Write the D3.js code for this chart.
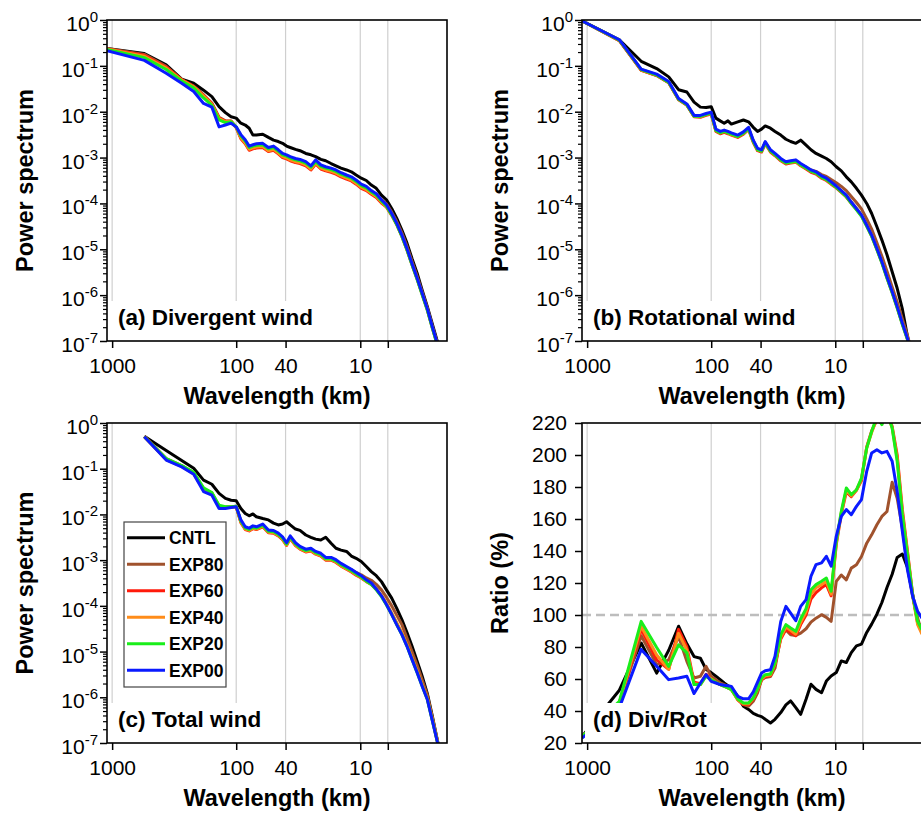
<!DOCTYPE html>
<html>
<head>
<meta charset="utf-8">
<script src="https://cdn.jsdelivr.net/npm/d3@7"></script>
<style>
  body { margin: 0; background: #fff; }
  svg { display: block; font-family: "Liberation Sans", Arial, Helvetica, sans-serif; }
</style>
</head>
<body>
<svg id="chart" width="921" height="816"></svg>
<script>
// Wavelength of each spectral sample (km), wavenumbers k = 1 ... 550 of a 1100 km domain
const wavelength = [1100, 550, 366.7, 275, 220, 183.3, 157.1, 137.5, 122.2, 110, 100,
  91.7, 84.6, 78.6, 73.3, 68.8, 61.1, 55, 50, 45.8, 42.3, 39.3, 36.7, 33.3, 30.6,
  27.5, 25, 22.9, 20.8, 19, 17.2, 15.7, 14.3, 12.9, 11.8, 10.8,
  9.82, 8.94, 8.15, 7.43, 6.75, 6.15, 5.58, 5.09, 4.62, 4.21,
  3.83, 3.48, 3.17, 2.88, 2.62, 2.38, 2.17, 2.0];

const seriesNames = ["CNTL", "EXP80", "EXP60", "EXP40", "EXP20", "EXP00"];
const seriesColors = ["#000000", "#a0522d", "#ff1a0a", "#ff8c1a", "#1aee1a", "#0a1aff"];

// Divergent wind spectra, log10 of power
const divCNTL = [-0.62, -0.73, -0.98, -1.29, -1.38, -1.53, -1.67, -1.89, -2.02, -2.11, -2.14,
  -2.25, -2.29, -2.36, -2.51, -2.51,
  -2.49, -2.56, -2.62, -2.65, -2.69, -2.75, -2.78, -2.82, -2.85,
  -2.91, -2.94, -2.98, -3.04, -3.07, -3.13, -3.18, -3.23, -3.27, -3.31, -3.38,
  -3.45, -3.50, -3.60, -3.67, -3.82, -3.92, -4.11, -4.32, -4.58, -4.86,
  -5.20, -5.52, -5.89, -6.25, -6.64, -7.03, -7.45, -7.85];
const divEXP80 = [-0.62, -0.75, -1.01, -1.30, -1.44, -1.63, -1.81, -2.12, -2.20, -2.20, -2.34,
  -2.57, -2.68, -2.82, -2.79, -2.77,
  -2.76, -2.85, -2.82, -2.90, -2.98, -3.01, -3.05, -3.09, -3.11,
  -3.16, -3.25, -3.12, -3.23, -3.27, -3.30, -3.34, -3.40, -3.45, -3.48, -3.55,
  -3.63, -3.67, -3.75, -3.80, -3.91, -4.01, -4.19, -4.39, -4.64, -4.93,
  -5.26, -5.59, -5.93, -6.28, -6.68, -7.06, -7.48, -7.88];
const divEXP60 = [-0.63, -0.77, -1.03, -1.30, -1.45, -1.65, -1.83, -2.14, -2.21, -2.21, -2.35,
  -2.59, -2.70, -2.84, -2.81, -2.79,
  -2.78, -2.87, -2.84, -2.92, -3.00, -3.03, -3.07, -3.11, -3.13,
  -3.18, -3.27, -3.14, -3.25, -3.29, -3.32, -3.36, -3.42, -3.47, -3.51, -3.58,
  -3.67, -3.72, -3.80, -3.87, -3.99, -4.08, -4.26, -4.46, -4.72, -5.01,
  -5.33, -5.65, -5.98, -6.32, -6.72, -7.10, -7.52, -7.92];
const divEXP40 = [-0.63, -0.79, -1.05, -1.31, -1.46, -1.66, -1.84, -2.15, -2.22, -2.21, -2.34,
  -2.57, -2.68, -2.82, -2.79, -2.77,
  -2.76, -2.85, -2.82, -2.90, -2.98, -3.01, -3.05, -3.09, -3.11,
  -3.16, -3.25, -3.12, -3.23, -3.27, -3.30, -3.34, -3.40, -3.45, -3.49, -3.56,
  -3.65, -3.70, -3.78, -3.85, -3.97, -4.07, -4.25, -4.45, -4.71, -5.00,
  -5.33, -5.65, -5.98, -6.32, -6.72, -7.10, -7.52, -7.92];
const divEXP20 = [-0.64, -0.82, -1.08, -1.33, -1.48, -1.70, -1.86, -2.18, -2.24, -2.22, -2.33,
  -2.53, -2.64, -2.78, -2.75, -2.73,
  -2.72, -2.81, -2.78, -2.86, -2.94, -2.97, -3.01, -3.05, -3.07,
  -3.12, -3.21, -3.09, -3.19, -3.23, -3.26, -3.30, -3.36, -3.41, -3.45, -3.52,
  -3.61, -3.66, -3.75, -3.82, -3.95, -4.06, -4.25, -4.46, -4.72, -5.01,
  -5.34, -5.66, -5.99, -6.33, -6.73, -7.11, -7.53, -7.93];
const divEXP00 = [-0.67, -0.88, -1.16, -1.38, -1.56, -1.82, -1.90, -2.33, -2.29, -2.25, -2.33,
  -2.50, -2.61, -2.75, -2.72, -2.70,
  -2.69, -2.78, -2.75, -2.83, -2.91, -2.94, -2.98, -3.02, -3.04,
  -3.09, -3.18, -3.05, -3.16, -3.20, -3.23, -3.27, -3.33, -3.38, -3.42, -3.49,
  -3.58, -3.63, -3.72, -3.79, -3.92, -4.03, -4.22, -4.43, -4.69, -4.98,
  -5.31, -5.63, -5.96, -6.30, -6.70, -7.08, -7.50, -7.90];

// Rotational wind spectra, log10 of power
const rotCNTL = [-0.02, -0.43, -0.90, -1.06, -1.24, -1.52, -1.57, -1.79, -1.90, -1.91, -1.89,
  -2.14, -2.20, -2.25, -2.20, -2.27,
  -2.22, -2.18, -2.22, -2.34, -2.43, -2.38, -2.31, -2.36, -2.43,
  -2.51, -2.60, -2.65, -2.69, -2.62, -2.73, -2.83, -2.91, -2.97, -3.02, -3.09,
  -3.20, -3.29, -3.42, -3.53, -3.67, -3.82, -4.00, -4.22, -4.51, -4.80,
  -5.12, -5.49, -5.85, -6.30, -6.90, -7.40, -7.90, -8.40];
const rotEXP80 = [-0.02, -0.45, -1.09, -1.21, -1.37, -1.73, -1.85, -2.10, -2.10, -2.06, -2.03,
  -2.40, -2.45, -2.42, -2.45, -2.48,
  -2.53, -2.46, -2.36, -2.64, -2.82, -2.85, -2.67, -2.85, -2.93,
  -3.04, -3.11, -3.09, -3.07, -3.15, -3.21, -3.27, -3.30, -3.37, -3.41, -3.48,
  -3.55, -3.63, -3.72, -3.85, -3.98, -4.12, -4.34, -4.56, -4.86, -5.15,
  -5.48, -5.82, -6.15, -6.52, -6.88, -7.30, -7.75, -8.25];
const rotEXP60 = [-0.02, -0.45, -1.10, -1.21, -1.37, -1.74, -1.86, -2.11, -2.12, -2.08, -2.05,
  -2.43, -2.48, -2.45, -2.48, -2.51,
  -2.56, -2.49, -2.39, -2.67, -2.85, -2.88, -2.70, -2.88, -2.96,
  -3.07, -3.14, -3.12, -3.10, -3.18, -3.25, -3.32, -3.36, -3.45, -3.50, -3.58,
  -3.66, -3.76, -3.86, -4.00, -4.13, -4.27, -4.49, -4.71, -5.00, -5.29,
  -5.62, -5.94, -6.27, -6.63, -6.96, -7.37, -7.82, -8.32];
const rotEXP40 = [-0.02, -0.44, -1.09, -1.20, -1.36, -1.73, -1.85, -2.10, -2.11, -2.06, -2.04,
  -2.41, -2.46, -2.43, -2.46, -2.50,
  -2.54, -2.47, -2.38, -2.65, -2.83, -2.86, -2.68, -2.86, -2.94,
  -3.05, -3.12, -3.10, -3.09, -3.16, -3.23, -3.30, -3.34, -3.43, -3.48, -3.56,
  -3.64, -3.73, -3.83, -3.97, -4.11, -4.25, -4.47, -4.69, -4.98, -5.27,
  -5.60, -5.92, -6.25, -6.61, -6.94, -7.35, -7.80, -8.30];
const rotEXP20 = [-0.02, -0.44, -1.08, -1.20, -1.36, -1.73, -1.85, -2.10, -2.10, -2.06, -2.03,
  -2.41, -2.46, -2.43, -2.46, -2.49,
  -2.54, -2.47, -2.37, -2.65, -2.83, -2.86, -2.68, -2.86, -2.94,
  -3.05, -3.12, -3.10, -3.08, -3.16, -3.23, -3.30, -3.34, -3.43, -3.48, -3.56,
  -3.65, -3.75, -3.85, -4.00, -4.14, -4.28, -4.50, -4.72, -5.01, -5.30,
  -5.63, -5.95, -6.28, -6.64, -6.97, -7.38, -7.83, -8.33];
const rotEXP00 = [-0.02, -0.43, -1.07, -1.18, -1.34, -1.71, -1.83, -2.08, -2.08, -2.04, -2.01,
  -2.38, -2.43, -2.40, -2.43, -2.46,
  -2.51, -2.44, -2.34, -2.62, -2.80, -2.83, -2.65, -2.83, -2.91,
  -3.02, -3.09, -3.07, -3.05, -3.13, -3.20, -3.27, -3.31, -3.40, -3.45, -3.53,
  -3.62, -3.72, -3.82, -3.97, -4.11, -4.25, -4.47, -4.69, -4.98, -5.27,
  -5.60, -5.92, -6.25, -6.61, -6.94, -7.35, -7.80, -8.30];

// Total wind spectra, log10 of power (no value at the domain scale)
const totCNTL = [null, -0.29, -0.60, -0.82, -0.99, -1.25, -1.34, -1.54, -1.65, -1.69, -1.70,
  -1.87, -1.98, -2.03, -1.99, -2.05,
  -2.09, -2.12, -2.19, -2.23, -2.21, -2.16, -2.23, -2.32, -2.35,
  -2.45, -2.50, -2.54, -2.56, -2.50, -2.63, -2.74, -2.78, -2.81, -2.91, -2.96,
  -3.03, -3.14, -3.25, -3.34, -3.47, -3.65, -3.83, -4.05, -4.30, -4.58,
  -4.88, -5.21, -5.54, -5.92, -6.42, -6.97, -7.50, -8.00];
const totEXP80 = [null, -0.29, -0.78, -0.93, -1.09, -1.44, -1.53, -1.82, -1.84, -1.83, -1.82,
  -2.16, -2.31, -2.34, -2.29, -2.31,
  -2.25, -2.38, -2.39, -2.45, -2.53, -2.66, -2.51, -2.66, -2.74,
  -2.80, -2.78, -2.85, -2.89, -2.98, -2.97, -3.02, -3.09, -3.16, -3.21, -3.27,
  -3.32, -3.39, -3.44, -3.53, -3.65, -3.81, -4.00, -4.20, -4.41, -4.70,
  -5.00, -5.30, -5.62, -5.95, -6.45, -6.97, -7.48, -7.98];
const totEXP60 = [null, -0.30, -0.80, -0.95, -1.11, -1.46, -1.55, -1.83, -1.85, -1.84, -1.83,
  -2.18, -2.33, -2.36, -2.31, -2.33,
  -2.27, -2.40, -2.41, -2.47, -2.55, -2.68, -2.53, -2.68, -2.76,
  -2.82, -2.80, -2.87, -2.91, -3.00, -3.00, -3.05, -3.13, -3.20, -3.26, -3.33,
  -3.39, -3.47, -3.53, -3.64, -3.78, -3.96, -4.17, -4.38, -4.60, -4.85,
  -5.14, -5.43, -5.73, -6.03, -6.50, -6.99, -7.49, -7.99];
const totEXP40 = [null, -0.30, -0.79, -0.94, -1.10, -1.45, -1.54, -1.82, -1.84, -1.84, -1.83,
  -2.17, -2.32, -2.35, -2.30, -2.32,
  -2.26, -2.39, -2.40, -2.46, -2.54, -2.67, -2.52, -2.67, -2.75,
  -2.81, -2.79, -2.86, -2.90, -2.99, -2.99, -3.04, -3.12, -3.19, -3.25, -3.32,
  -3.38, -3.46, -3.52, -3.63, -3.77, -3.95, -4.16, -4.37, -4.59, -4.84,
  -5.13, -5.42, -5.72, -6.02, -6.49, -6.98, -7.48, -7.98];
const totEXP20 = [null, -0.30, -0.78, -0.93, -1.08, -1.42, -1.52, -1.80, -1.83, -1.83, -1.82,
  -2.15, -2.30, -2.33, -2.28, -2.30,
  -2.24, -2.37, -2.38, -2.44, -2.52, -2.65, -2.50, -2.65, -2.73,
  -2.79, -2.77, -2.84, -2.88, -2.97, -2.97, -3.02, -3.10, -3.17, -3.23, -3.30,
  -3.37, -3.46, -3.53, -3.65, -3.80, -3.98, -4.19, -4.41, -4.63, -4.88,
  -5.17, -5.46, -5.76, -6.05, -6.52, -7.00, -7.50, -8.00];
const totEXP00 = [null, -0.30, -0.81, -0.96, -1.12, -1.50, -1.58, -1.87, -1.87, -1.85, -1.83,
  -2.12, -2.27, -2.30, -2.25, -2.27,
  -2.21, -2.34, -2.35, -2.41, -2.49, -2.62, -2.47, -2.62, -2.70,
  -2.76, -2.74, -2.81, -2.85, -2.94, -2.94, -2.99, -3.07, -3.14, -3.20, -3.27,
  -3.34, -3.43, -3.50, -3.63, -3.78, -3.97, -4.19, -4.41, -4.63, -4.88,
  -5.17, -5.46, -5.76, -6.05, -6.52, -7.00, -7.50, -8.00];

// Divergent / rotational ratio (%)
const ratioCNTL = [24, 53, 82.5, 63.7, 78, 93, 82, 74, 73, 66, 64,
  61.7, 59.6, 57.5, 55.8, 54.4,
  49.2, 43, 41, 38.5, 37.3, 36.5, 34.8, 32.5, 34.8,
  39, 43.8, 46.3, 42.1, 37.9, 47.3, 56.7, 53.5, 51.4, 58.7, 61.9,
  64, 71.3, 70.3, 76.5, 80.7, 81.8, 89.1, 94.3, 100.5, 107.8,
  117.2, 125.5, 136, 138.1, 129.7, 113, 96.3, 90];
const ratioEXP80 = [24, 45, 87, 69, 72, 86.6, 71, 60.6, 61.7, 67.9, 61.7,
  59.6, 57.5, 56.5, 55.4, 54.4,
  47.1, 44, 43, 46.1, 51.3, 59.5, 61, 61.6, 66.8,
  86.6, 90.7, 87.6, 87.2, 88.7, 91.4, 95.5, 98, 100.2, 98.5, 96,
  121, 125, 122, 129.3, 131.4, 136.6, 144.9, 150.1, 156.4, 161.6,
  164.7, 183, 173, 154.4, 131.4, 111.7, 98.1, 88.7];
const ratioEXP60 = [24, 45, 91, 72, 66, 91, 80, 58, 57, 63, 60,
  58, 56.5, 55.5, 54.5, 53.5,
  47, 44, 44, 47.5, 53, 59.5, 61.5, 62, 69,
  85, 91, 89, 87, 94, 100, 110, 114, 117, 119, 112,
  144, 163, 177, 174, 178, 184, 205, 215, 222, 220,
  226, 218, 200, 166, 140, 113, 95, 89];
const ratioEXP40 = [24, 45, 93, 75, 66, 88.5, 78, 57, 56.5, 62, 60,
  58, 56.5, 55.5, 54.5, 53.5,
  47, 44.5, 44.5, 48, 53.5, 60, 62, 62.5, 69.5,
  86, 92.5, 90.5, 88, 95.5, 102, 113, 117, 119, 121, 113,
  145, 164, 178, 174.5, 178, 185, 204.5, 214, 223, 219.5,
  226, 217, 198, 164, 139, 112, 94, 88];
const ratioEXP20 = [24, 46, 96, 79.7, 67.9, 81.3, 76.3, 56.5, 56.5, 61.7, 59.6,
  57.9, 56.5, 55.4, 54.4, 53.3,
  47.5, 45, 45, 48.2, 53.8, 60.6, 62.7, 63.1, 70,
  87.7, 94, 91.9, 89.8, 97.7, 104, 115.8, 119, 121.1, 123.1, 114.8,
  146, 164.8, 179.4, 175.2, 178.3, 185.6, 204.4, 214.8, 224, 219,
  227, 216.9, 196.1, 162.7, 137.7, 112.7, 96, 90.8];
const ratioEXP00 = [23, 42, 78.5, 67.9, 59.6, 60.6, 61.7, 50.9, 57.5, 62.7, 58.5,
  57.5, 56.5, 56.1, 55.8, 55.4,
  49.2, 47.6, 47.6, 52, 58, 63.7, 65.2, 65.8, 74.2,
  96, 105.4, 101.2, 96.4, 105.4, 109.6, 124.2, 131.5, 132.6, 136.7, 130.5,
  149.2, 161.7, 165.9, 162.7, 167.9, 172.1, 189.8, 201.3, 203.3, 201.3,
  202.3, 196.1, 177.3, 152.3, 128.3, 111.7, 102.3, 98];

// Axis ticks
const xTickValues = [1000, 100, 40, 10, 6];
const xTickLabels = ["1000", "100", "40", "10", ""];
const specExponents = [0, -1, -2, -3, -4, -5, -6, -7];
const ratioTicks = [20, 40, 60, 80, 100, 120, 140, 160, 180, 200, 220];

const panels = [
  { key: "a", left: 107, top: 20, height: 321, kind: "log", title: "(a) Divergent wind", yTitle: "Power spectrum",
    data: [divCNTL, divEXP80, divEXP60, divEXP40, divEXP20, divEXP00] },
  { key: "b", left: 582, top: 20, height: 321, kind: "log", title: "(b) Rotational wind", yTitle: "Power spectrum",
    data: [rotCNTL, rotEXP80, rotEXP60, rotEXP40, rotEXP20, rotEXP00] },
  { key: "c", left: 107, top: 423, height: 320, kind: "log", title: "(c) Total wind", yTitle: "Power spectrum",
    data: [totCNTL, totEXP80, totEXP60, totEXP40, totEXP20, totEXP00], legend: true },
  { key: "d", left: 582, top: 423, height: 320, kind: "ratio", title: "(d) Div/Rot", yTitle: "Ratio (%)",
    data: [ratioCNTL, ratioEXP80, ratioEXP60, ratioEXP40, ratioEXP20, ratioEXP00] }
];

const W = 340;
const svg = d3.select("#chart");

function drawPanel(p) {
  const h = p.height;
  const g = svg.append("g").attr("transform", `translate(${p.left},${p.top})`);
  const x = d3.scaleLog().domain([1100, 2]).range([0, W]);
  const y = p.kind === "log"
    ? d3.scaleLinear().domain([-7, 0]).range([h, 0])
    : d3.scaleLinear().domain([20, 220]).range([h, 0]);

  const clipId = "clip-" + p.key;
  g.append("clipPath").attr("id", clipId)
    .append("rect").attr("width", W).attr("height", h);

  // vertical reference lines at the labelled wavelengths
  g.append("g").selectAll("line").data(xTickValues).join("line")
    .attr("x1", d => x(d)).attr("x2", d => x(d))
    .attr("y1", 0).attr("y2", h)
    .attr("stroke", "#cfcfcf").attr("stroke-width", 1.2);

  if (p.kind === "ratio") {
    g.append("line")
      .attr("x1", 0).attr("x2", W).attr("y1", y(100)).attr("y2", y(100))
      .attr("stroke", "#bdbdbd").attr("stroke-width", 2.6).attr("stroke-dasharray", "9,5");
  }

  const line = d3.line()
    .defined(d => d[1] !== null)
    .x(d => x(d[0]))
    .y(d => y(d[1]));

  const plot = g.append("g").attr("clip-path", `url(#${clipId})`);
  p.data.forEach((vals, i) => {
    plot.append("path")
      .datum(wavelength.map((w, j) => [w, vals[j]]))
      .attr("d", line)
      .attr("fill", "none")
      .attr("stroke", seriesColors[i])
      .attr("stroke-width", 3)
      .attr("stroke-linejoin", "round");
  });

  // panel title on a white patch in the lower-left corner
  const labelBox = g.append("rect").attr("fill", "#fff");
  const label = g.append("text")
    .attr("x", 11).attr("y", h - 16)
    .attr("font-size", 22.5).attr("font-weight", "bold")
    .text(p.title);
  const bb = label.node().getBBox();
  labelBox.attr("x", 3).attr("y", h - 40)
    .attr("width", bb.x + bb.width + 5 - 3).attr("height", 39);

  // frame
  g.append("rect").attr("width", W).attr("height", h)
    .attr("fill", "none").attr("stroke", "#000").attr("stroke-width", 1.6);

  // x axis
  const xAxis = g.append("g").attr("transform", `translate(0,${h})`)
    .call(d3.axisBottom(x).tickValues(xTickValues)
      .tickFormat((d, i) => xTickLabels[i]).tickSize(7).tickPadding(10));
  xAxis.select(".domain").remove();
  xAxis.selectAll("line").attr("stroke", "#000").attr("stroke-width", 1.5);
  xAxis.selectAll("text").attr("font-size", 21).attr("fill", "#000");
  xAxis.attr("font-family", null);

  // y axis
  if (p.kind === "log") {
    const minor = [];
    for (let e = -7; e < 0; e++) for (let m = 2; m <= 9; m++) minor.push(e + Math.log10(m));
    const yMinor = g.append("g")
      .call(d3.axisLeft(y).tickValues(minor).tickFormat("").tickSize(4));
    yMinor.select(".domain").remove();
    yMinor.selectAll("line").attr("stroke", "#000").attr("stroke-width", 1.2);

    const yMajor = g.append("g")
      .call(d3.axisLeft(y).tickValues(specExponents).tickFormat("").tickSize(7));
    yMajor.select(".domain").remove();
    yMajor.selectAll("line").attr("stroke", "#000").attr("stroke-width", 1.5);

    const lbl = g.append("g").selectAll("text").data(specExponents).join("text")
      .attr("x", -9).attr("y", d => y(d) + 11)
      .attr("text-anchor", "end").attr("font-size", 21);
    lbl.append("tspan").text("10");
    lbl.append("tspan").attr("font-size", 15).attr("dy", -9).text(d => String(d));
  } else {
    const yAxis = g.append("g")
      .call(d3.axisLeft(y).tickValues(ratioTicks).tickSize(7).tickPadding(8));
    yAxis.select(".domain").remove();
    yAxis.selectAll("line").attr("stroke", "#000").attr("stroke-width", 1.5);
    yAxis.selectAll("text").attr("font-size", 21).attr("fill", "#000");
    yAxis.attr("font-family", null);
  }

  // axis titles
  g.append("text")
    .attr("transform", `translate(-74,${h / 2}) rotate(-90)`)
    .attr("text-anchor", "middle")
    .attr("font-size", 23.5).attr("font-weight", "bold")
    .text(p.yTitle);
  g.append("text")
    .attr("x", W / 2).attr("y", h + 63)
    .attr("text-anchor", "middle")
    .attr("font-size", 23.5).attr("font-weight", "bold")
    .text("Wavelength (km)");

  if (p.legend) {
    const lg = g.append("g").attr("transform", "translate(17,99)");
    lg.append("rect").attr("width", 102).attr("height", 165)
      .attr("fill", "#fff").attr("stroke", "#444").attr("stroke-width", 1.2);
    const rows = lg.selectAll("g.row").data(seriesNames).join("g")
      .attr("class", "row")
      .attr("transform", (d, i) => `translate(0,${15.7 + i * 26.5})`);
    rows.append("line")
      .attr("x1", 3).attr("x2", 41).attr("y1", 0).attr("y2", 0)
      .attr("stroke", (d, i) => seriesColors[i]).attr("stroke-width", 3);
    rows.append("text")
      .attr("x", 45).attr("y", 6.3)
      .attr("font-size", 17.5).attr("font-weight", "bold")
      .text(d => d);
  }
}

panels.forEach(drawPanel);
</script>
</body>
</html>
